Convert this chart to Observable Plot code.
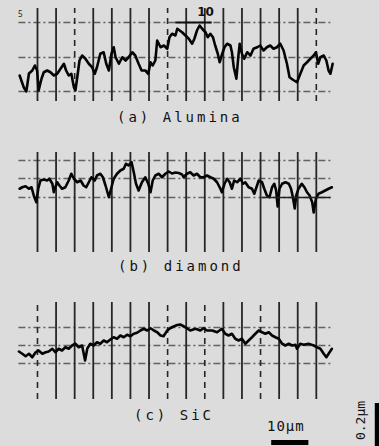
<!DOCTYPE html>
<html><head><meta charset="utf-8">
<script src="https://cdn.jsdelivr.net/npm/d3@7"></script>
<script src="https://cdn.jsdelivr.net/npm/@observablehq/plot@0.6"></script>
<style>
html,body{margin:0;padding:0;background:#dcdcdc;}
#root{position:relative;width:379px;height:446px;overflow:hidden;background:#dcdcdc;font-family:"DejaVu Sans Mono",monospace;color:#111;}
.panel{position:absolute;left:0;}
.cap{position:absolute;font-size:14px;line-height:16px;letter-spacing:3px;white-space:pre;}
</style></head><body><div id="root"></div>
<script>
// x: distance along the trace (µm); h: surface height (nm) above the lower reference line
const gridX = [0,5,10,15,20,25,30,35,40,45,50,55,60,65,70,75];

const aluminaX = [-4.8,-3.7,-3.0,-2.3,-1.4,-0.7,-0.1,0.3,1.1,1.7,
 2.6,3.5,4.4,5.3,6.2,7.1,7.7,8.4,9.1,9.8,
 10.2,10.7,11.3,12.0,12.9,13.8,14.7,15.4,16.0,16.9,
 17.8,18.5,19.2,19.9,20.5,21.0,21.9,22.8,23.7,24.5,
 25.5,26.3,27.2,28.0,29.0,29.8,30.4,31.0,31.7,32.2,
 33.1,34.0,34.9,35.5,36.2,37.1,37.6,38.9,39.8,40.7,
 41.6,42.2,42.9,43.6,44.3,45.2,45.8,46.5,47.2,47.8,
 48.5,49.0,49.7,50.3,51.0,51.9,52.3,52.8,53.5,54.0,
 54.4,55.0,55.6,56.4,57.3,58.1,59.1,59.9,60.8,61.7,
 62.6,63.5,64.4,65.3,66.2,67.1,67.8,68.7,69.8,70.7,
 71.6,72.5,73.4,74.3,74.9,75.5,76.1,77.0,77.7,78.3,
 78.8,79.4];
const aluminaH = [64,17,0,72,84,104,84,4,52,77,
 84,77,64,71,91,111,84,64,71,17,
 4,57,124,144,131,111,97,71,97,151,
 157,111,84,151,177,137,111,137,124,137,
 157,144,111,84,84,71,117,104,124,204,
 177,184,171,217,231,224,251,237,224,211,
 191,211,244,264,251,237,217,231,217,184,
 151,117,151,177,191,184,157,97,51,137,
 191,151,131,157,144,171,177,184,164,177,
 184,171,177,191,164,111,57,47,37,71,
 104,117,131,144,157,111,137,144,124,84,
 71,111];

const diamondX = [-4.8,-4.1,-3.2,-2.3,-1.6,-1.0,-0.3,0.2,0.8,1.7,
 2.6,3.2,4.0,4.4,4.8,5.3,5.9,6.6,7.5,8.4,
 9.1,9.8,10.7,11.6,12.4,13.1,13.8,14.5,15.4,16.0,
 16.9,17.6,18.3,19.2,19.9,20.5,21.4,22.3,23.2,23.8,
 24.5,25.3,25.9,26.5,27.2,28.1,29.0,29.8,30.4,31.0,
 31.7,32.6,33.5,34.4,
 35.3,36.2,37.1,38.0,38.9,39.3,
 40.2,41.1,42.0,42.9,43.8,44.7,45.6,46.5,47.4,48.3,
 49.2,49.6,50.3,51.0,51.7,52.3,52.9,53.7,54.6,55.3,
 55.9,56.8,57.7,58.3,58.9,59.5,60.4,61.0,61.7,62.4,
 63.1,63.7,64.2,64.6,65.1,65.8,66.7,67.6,68.2,68.7,
 69.2,69.6,70.2,71.1,71.8,72.5,73.2,73.9,74.3,74.9,
 75.6,76.5,77.4,78.3,79.2];
const diamondH = [35,41,45,35,41,8,-19,35,68,72,
 68,75,55,21,41,61,48,35,41,68,
 95,75,61,68,48,41,61,81,68,88,
 95,81,48,1,41,75,95,108,115,135,
 128,141,101,55,28,61,81,55,21,68,
 88,95,81,95,
 104,96,100,98,92,81,
 95,101,88,95,81,81,88,81,75,61,
 35,21,55,75,61,35,68,61,75,55,
 61,41,35,15,41,68,61,35,8,1,
 41,55,28,-36,35,55,61,55,35,1,
 -44,8,35,55,41,21,8,-19,-60,-5,
 15,21,28,35,41];

const sicX = [-5.0,-4.1,-3.2,-2.3,-1.4,-0.5,0.3,1.3,2.2,3.0,
 4.0,4.8,5.7,6.6,7.5,8.4,9.3,10.2,11.1,12.0,
 12.8,13.4,14.2,15.1,16.0,16.9,17.8,18.7,19.6,20.5,
 21.4,22.3,23.2,24.1,25.0,25.9,26.8,27.7,28.6,29.5,
 30.4,31.3,32.2,33.1,33.9,34.9,35.8,36.6,37.6,38.4,
 39.8,41.1,42.5,43.8,44.7,45.6,47.0,48.3,49.6,50.5,
 51.4,52.3,53.2,54.1,55.0,55.9,56.8,57.7,58.6,59.5,
 60.4,61.3,62.2,63.1,64.0,64.9,65.8,66.7,67.6,68.5,
 69.4,69.8,70.7,71.6,72.9,74.3,75.2,76.1,77.0,77.7,
 78.3,79.2];
const sicH = [48,39,29,39,25,45,52,39,45,48,
 59,45,59,52,65,59,72,79,65,72,
 12,60,79,72,85,79,92,85,96,105,
 99,112,105,115,109,119,123,132,139,132,
 141,132,125,112,109,132,142,148,154,156,
 145,132,139,132,141,132,132,125,139,119,
 112,119,99,92,99,79,92,105,119,132,
 125,119,125,112,105,99,79,72,79,72,
 75,59,79,75,79,72,65,59,39,25,
 39,59];

// reference (dash-dot) levels, nm
const aluminaRef = [0,136,276];
const diamondRef = [0,76,148];
const sicRef = [0,72,144];
// broken (dotted) grid lines per panel, µm
const aluminaDotted = [10,35,75];
const diamondDotted = [];
const sicDotted = [0,35,45,60];

const captions = ["(a) Alumina","(b) diamond","(c) SiC"];
const scaleLabels = ["10μm","0.2μm"];

const toRows = (xs, hs) => xs.map((x,i) => ({x, h: hs[i]}));

function panel({xs, hs, domain, height, refs, dotted, g1, g2, extra = []}) {
  const solid = gridX.filter(v => !dotted.includes(v));
  const dots = gridX.filter(v => dotted.includes(v));
  return Plot.plot({
    width: 379, height,
    marginTop: 0, marginBottom: 0, marginLeft: 18.4, marginRight: 44.6,
    x: {domain: [-5, 80], axis: null},
    y: {domain, axis: null},
    style: {background: "transparent", overflow: "visible"},
    marks: [
      Plot.ruleY(refs, {x1: -5, x2: 79, stroke: "#3a3a3a", strokeWidth: 1.3, strokeDasharray: "7,3,2,3", strokeOpacity: 0.75}),
      Plot.ruleX(solid, {y1: g1, y2: g2, stroke: "#262626", strokeWidth: 1.8}),
      Plot.ruleX(dots, {y1: g1, y2: g2, stroke: "#262626", strokeWidth: 1.6, strokeDasharray: "6,5"}),
      Plot.line(toRows(xs, hs), {x: "x", y: "h", stroke: "#050505", strokeWidth: 2.6, strokeLinejoin: "round"}),
      ...extra
    ]
  });
}

const root = document.getElementById("root");
function place(node, top) { node.classList.add("panel"); node.style.top = top + "px"; root.appendChild(node); }
function cap(text, left, top, size, ls) {
  const d = document.createElement("div"); d.className = "cap"; d.textContent = text;
  d.style.left = left + "px"; d.style.top = top + "px";
  if (size) d.style.fontSize = size + "px";
  if (ls != null) d.style.letterSpacing = ls + "px";
  root.appendChild(d);
}

place(panel({xs: aluminaX, hs: aluminaH, domain: [-68, 364], height: 108, refs: aluminaRef,
  dotted: aluminaDotted, g1: -40, g2: 332,
  extra: [
    Plot.text(["10"], {x: 45.2, y: 316, fontSize: 12, fontWeight: "bold", fill: "#111", fontFamily: "DejaVu Sans"}),
    Plot.ruleY([276], {x1: 37.2, x2: 47, stroke: "#111", strokeWidth: 1.8}),
    Plot.text(["5"], {x: -4.6, y: 308, fontSize: 8, fill: "#222"})
  ]}), 0);

place(panel({xs: diamondX, hs: diamondH, domain: [-252, 208], height: 115, refs: diamondRef,
  dotted: diamondDotted, g1: -220, g2: 180,
  extra: [Plot.ruleY([0], {x1: 60.5, x2: 79, stroke: "#222", strokeWidth: 1.5})]}), 145);

place(panel({xs: sicX, hs: sicH, domain: [-332, 272], height: 151, refs: sicRef,
  dotted: sicDotted, g1: -144, g2: 244,
  extra: [
    Plot.ruleY([-316], {x1: 63, x2: 73, stroke: "#000", strokeWidth: 5}),
    Plot.ruleX([91.4], {y1: -160, y2: -360, stroke: "#000", strokeWidth: 5}),
    Plot.text([scaleLabels[1]], {x: 87, y: -228, rotate: -90, fontSize: 13, fill: "#111", fontFamily: "DejaVu Sans Mono"})
  ]}), 295);

cap(captions[0], 117, 109);
cap(captions[1], 118, 258);
cap(captions[2], 134, 407);
cap(scaleLabels[0], 267, 418, 14, 1);
</script></body></html>
